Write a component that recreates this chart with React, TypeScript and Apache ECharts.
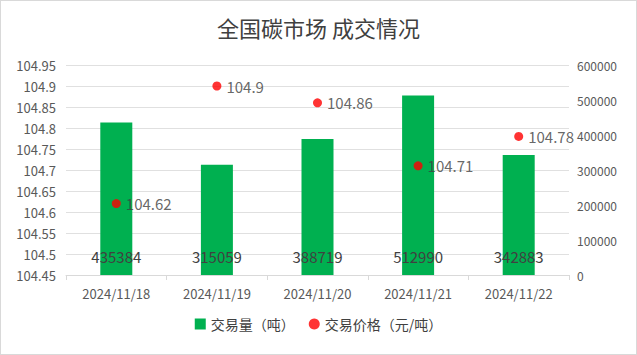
import React, { useEffect, useRef } from "react";
import * as echarts from "echarts";

const categories = ["2024/11/18", "2024/11/19", "2024/11/20", "2024/11/21", "2024/11/22"];
const volumes = [435384, 315059, 388719, 512990, 342883];
const prices = [104.62, 104.9, 104.86, 104.71, 104.78];
const titleText = "全国碳市场 成交情况";
const volumeName = "交易量（吨）";
const priceName = "交易价格（元/吨）";

export default function App() {
  const ref = useRef<HTMLDivElement>(null);
  useEffect(() => {
    document.body.style.margin = "0";
    const chart = echarts.init(ref.current!, undefined, { renderer: "svg" });
    const font = "'Microsoft YaHei', 'Noto Sans CJK SC', sans-serif";
    chart.setOption({
      animation: false,
      backgroundColor: "#fff",
      textStyle: { fontFamily: font },
      title: {
        text: titleText,
        left: "center",
        top: 10,
        textStyle: { fontSize: 22, fontWeight: "normal", color: "#404040", fontFamily: "'Noto Sans CJK SC', sans-serif" },
      },
      legend: {
        bottom: 18,
        left: "center",
        itemWidth: 11,
        itemHeight: 11,
        itemGap: 14,
        textStyle: { fontSize: 14, color: "#404040" },
        data: [
          { name: volumeName, icon: "rect" },
          { name: priceName, icon: "circle" },
        ],
      },
      grid: { left: 65, right: 67, top: 64, bottom: 79 },
      xAxis: {
        type: "category",
        data: categories,
        axisLine: { lineStyle: { color: "#d9d9d9" } },
        axisTick: { show: true, length: 5, lineStyle: { color: "#d9d9d9" } },
        axisLabel: { fontSize: 13, color: "#595959", margin: 12 },
      },
      yAxis: [
        {
          type: "value",
          min: 104.45,
          max: 104.95,
          interval: 0.05,
          axisLine: { show: false },
          axisTick: { show: false },
          splitLine: { lineStyle: { color: "#e0e0e0" } },
          axisLabel: {
            fontSize: 13,
            color: "#595959",
            margin: 10,
            formatter: (v: number) => String(parseFloat(v.toFixed(2))),
          },
        },
        {
          type: "value",
          min: 0,
          max: 600000,
          interval: 100000,
          axisLine: { show: false },
          axisTick: { show: false },
          splitLine: { show: false },
          axisLabel: {
            fontSize: 12,
            color: "#595959",
            margin: 8,
            formatter: (v: number) => String(Math.round(v)),
          },
        },
      ],
      series: [
        {
          name: volumeName,
          type: "bar",
          yAxisIndex: 1,
          data: volumes,
          barWidth: 32,
          itemStyle: { color: "#00B050" },
          label: {
            show: true,
            position: "insideBottom",
            distance: 11,
            fontSize: 15,
            color: "#404040",
          },
          z: 2,
        },
        {
          name: priceName,
          type: "scatter",
          yAxisIndex: 0,
          data: prices,
          symbol: "circle",
          symbolSize: 9,
          itemStyle: { color: "#FF0000" },
          label: {
            show: true,
            position: "right",
            distance: 5,
            fontSize: 15,
            color: "#404040",
          },
          z: 3,
        },
      ],
    });
    return () => chart.dispose();
  }, []);
  return (
    <div
      ref={ref}
      style={{
        position: "fixed",
        left: 0,
        top: 0,
        width: 637,
        height: 355,
        boxSizing: "border-box",
        border: "1px solid #d9d9d9",
      }}
    />
  );
}
